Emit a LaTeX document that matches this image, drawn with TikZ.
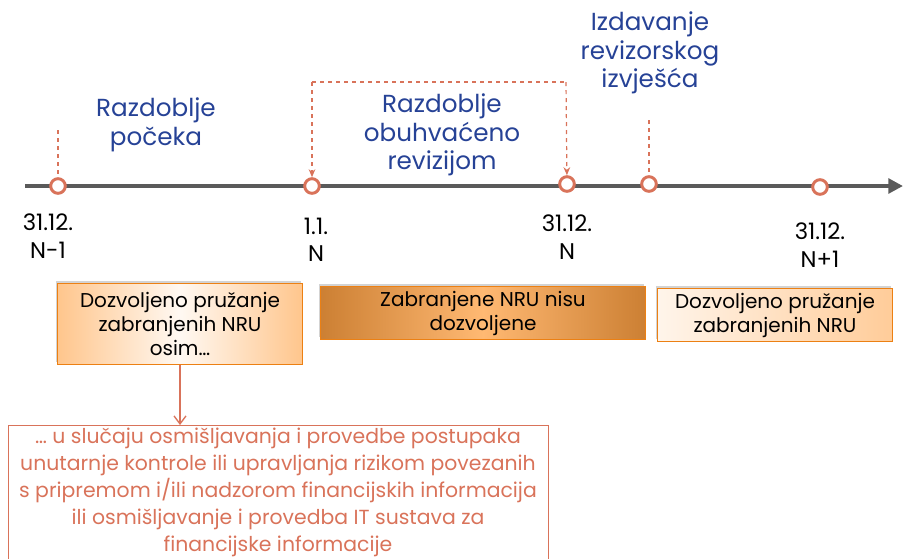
\documentclass[tikz,border=0pt]{standalone}
\usepackage{fontspec}
\setmainfont{Poppins}
\usetikzlibrary{arrows.meta,shadows}

\definecolor{axisgray}{RGB}{90,90,90}
\definecolor{salmon}{RGB}{217,115,90}
\definecolor{navy}{RGB}{38,66,150}

\tikzset{
  dot/.style={circle,draw=salmon,line width=2.2pt,fill=white,minimum size=11pt,inner sep=0pt},
  dashline/.style={draw=salmon,dashed,line width=0.9pt},
  period/.style={text=navy,align=center,font=\fontsize{18.5}{21.5}\selectfont},
  date/.style={align=center,font=\fontsize{17}{20.5}\selectfont},
  rulebox/.style={align=center,font=\fontsize{15}{18}\selectfont,draw=orange!70!brown,line width=0.4pt,
    drop shadow={shadow xshift=-1pt,shadow yshift=2pt,opacity=0.35},inner sep=0pt}
}

\begin{document}
\begin{tikzpicture}[x=0.75pt,y=-0.75pt]
\useasboundingbox (0,0) rectangle (903,558);

% timeline
\coordinate (axstart) at (25,186);
\coordinate (axend) at (903,186);
\draw[axisgray,line width=3.5pt,-{Triangle[length=11pt,width=11pt]}] (axstart) -- (axend);

\node[dot] (t1) at (58,186) {};
\node[dot] (t2) at (312,186) {};
\node[dot] (t3) at (567,184) {};
\node[dot] (t4) at (649,184) {};
\node[dot] (t5) at (820,187) {};

% dashed marks
\coordinate (m1) at (58,130);
\draw[dashline] (m1) -- (t1);
\coordinate (top1) at (312,82);
\coordinate (top2) at (566,82);
\draw[dashline,-{Stealth[length=6pt,width=5pt]}] (top1) -- (t2);
\draw[dashline] (top1) -- (top2);
\draw[dashline,-{Stealth[length=6pt,width=5pt]}] (top2) -- (t3);
\coordinate (m4) at (649,120);
\draw[dashline,line width=1.6pt] (m4) -- (t4);

% period labels
\node[period] (pocek) at (156,125) {Razdoblje\\počeka};
\node[period] (obuhv) at (442,135) {Razdoblje\\obuhvaćeno\\revizijom};
\node[period] (izdav) at (650,53) {Izdavanje\\revizorskog\\izvješća};

% dates
\node[date] (d1) at (48,236) {31.12.\\N-1};
\node[date] (d2) at (316,240) {1.1.\\N};
\node[date] (d3) at (567,237) {31.12.\\N};
\node[date] (d4) at (820,245) {31.12.\\N+1};

% boxes
\node[rulebox,minimum width=184pt,minimum height=61pt,left color=orange!45!white,right color=orange!45!white,middle color=orange!5!white]
  (dozv1) at (180,324) {Dozvoljeno pružanje\\zabranjenih NRU\\osim…};
\node[rulebox,minimum width=244pt,minimum height=40pt,left color=brown!80!orange,right color=brown!80!orange,middle color=orange!55!white]
  (zabr) at (483,313) {Zabranjene NRU nisu\\dozvoljene};
\node[rulebox,minimum width=176pt,minimum height=40pt,left color=orange!8!white,right color=orange!40!white]
  (dozv2) at (775,315) {Dozvoljeno pružanje\\zabranjenih NRU};

\node[draw=salmon,line width=0.6pt,text=salmon,align=center,font=\fontsize{15.3}{20.3}\selectfont,
  minimum width=405pt,inner sep=2pt,anchor=north] (osim) at (278,425)
  {… u slučaju osmišljavanja i provedbe postupaka\\unutarnje kontrole ili upravljanja rizikom povezanih\\s pripremom i/ili nadzorom financijskih informacija\\ili osmišljavanje i provedba IT sustava za\\financijske informacije};

\draw[salmon,line width=1pt,-{Straight Barb[length=6pt,width=9pt]}] (dozv1.south) -- (dozv1.south |- osim.north);
\end{tikzpicture}
\end{document}
